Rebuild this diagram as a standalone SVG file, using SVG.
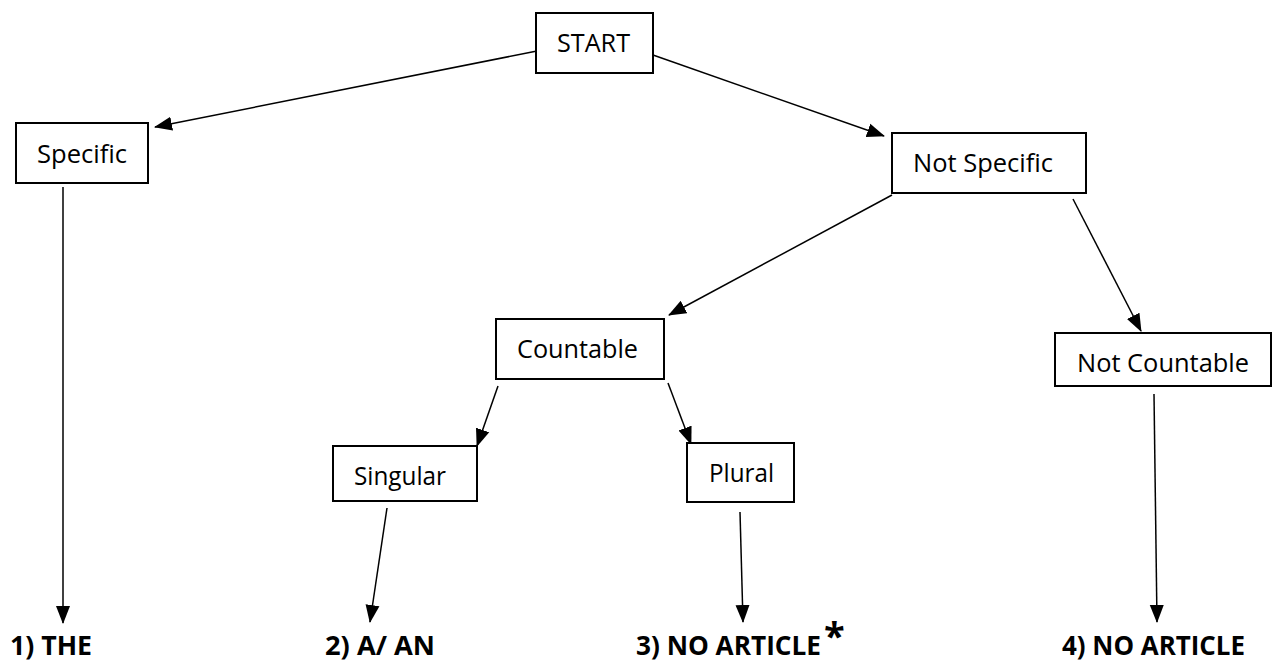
<svg xmlns="http://www.w3.org/2000/svg" width="1272" height="669" viewBox="0 0 1272 669">
<style>
.box{fill:#fff;stroke:#000;stroke-width:2}
.t{font-family:"Open Sans","Liberation Sans",sans-serif;font-size:26px;fill:#000}
.b{font-family:"Open Sans","Liberation Sans",sans-serif;font-size:27px;font-weight:bold;fill:#000}
.c{stroke:#000;stroke-width:1.5;fill:none;marker-end:url(#ah)}
</style>
<defs>
<marker id="ah" markerUnits="userSpaceOnUse" markerWidth="18" markerHeight="15" refX="17" refY="7" orient="auto" viewBox="0 0 18 14">
<path d="M0,0 L18,7 L0,14 z" fill="#000"/>
</marker>
</defs>
<g id="connectors">
<line class="c" x1="537" y1="51" x2="155" y2="127"/>
<line class="c" x1="653" y1="55" x2="884" y2="136"/>
<line class="c" x1="892" y1="195" x2="669" y2="315"/>
<line class="c" x1="1073" y1="199" x2="1141" y2="331"/>
<line class="c" x1="498" y1="386" x2="477" y2="446"/>
<line class="c" x1="668" y1="383" x2="691" y2="444"/>
<line class="c" x1="63" y1="187" x2="63" y2="623"/>
<line class="c" x1="387" y1="508" x2="370" y2="622"/>
<line class="c" x1="740" y1="512" x2="743" y2="622"/>
<line class="c" x1="1154" y1="394" x2="1157" y2="622"/>
</g>
<g id="start"><rect class="box" x="536" y="13" width="117" height="60"/><text class="t" x="557" y="52" textLength="73" lengthAdjust="spacingAndGlyphs">START</text></g>
<g id="specific"><rect class="box" x="16" y="123" width="132" height="60"/><text class="t" x="37" y="163" textLength="90" lengthAdjust="spacingAndGlyphs">Specific</text></g>
<g id="notspecific"><rect class="box" x="892" y="133" width="194" height="60"/><text class="t" x="913" y="172" textLength="140" lengthAdjust="spacingAndGlyphs">Not Specific</text></g>
<g id="countable"><rect class="box" x="496" y="319" width="168" height="60"/><text class="t" x="517" y="358" textLength="121" lengthAdjust="spacingAndGlyphs">Countable</text></g>
<g id="notcountable"><rect class="box" x="1055" y="333" width="216" height="53"/><text class="t" x="1077" y="372" textLength="172" lengthAdjust="spacingAndGlyphs">Not Countable</text></g>
<g id="singular"><rect class="box" x="333" y="446" width="144" height="55"/><text class="t" x="354" y="485" textLength="92" lengthAdjust="spacingAndGlyphs">Singular</text></g>
<g id="plural"><rect class="box" x="687" y="443" width="107" height="59"/><text class="t" x="709" y="482" textLength="65" lengthAdjust="spacingAndGlyphs">Plural</text></g>
<g id="the"><text class="b" x="10" y="655" textLength="82" lengthAdjust="spacingAndGlyphs">1) THE</text></g>
<g id="aan"><text class="b" x="325" y="655" textLength="110" lengthAdjust="spacingAndGlyphs">2) A/ AN</text></g>
<g id="noarticle1"><text class="b" x="636" y="655" textLength="185" lengthAdjust="spacingAndGlyphs">3) NO ARTICLE</text><text class="b" x="824" y="650" style="font-size:38px">*</text></g>
<g id="noarticle2"><text class="b" x="1062" y="655" textLength="183" lengthAdjust="spacingAndGlyphs">4) NO ARTICLE</text></g>
</svg>
